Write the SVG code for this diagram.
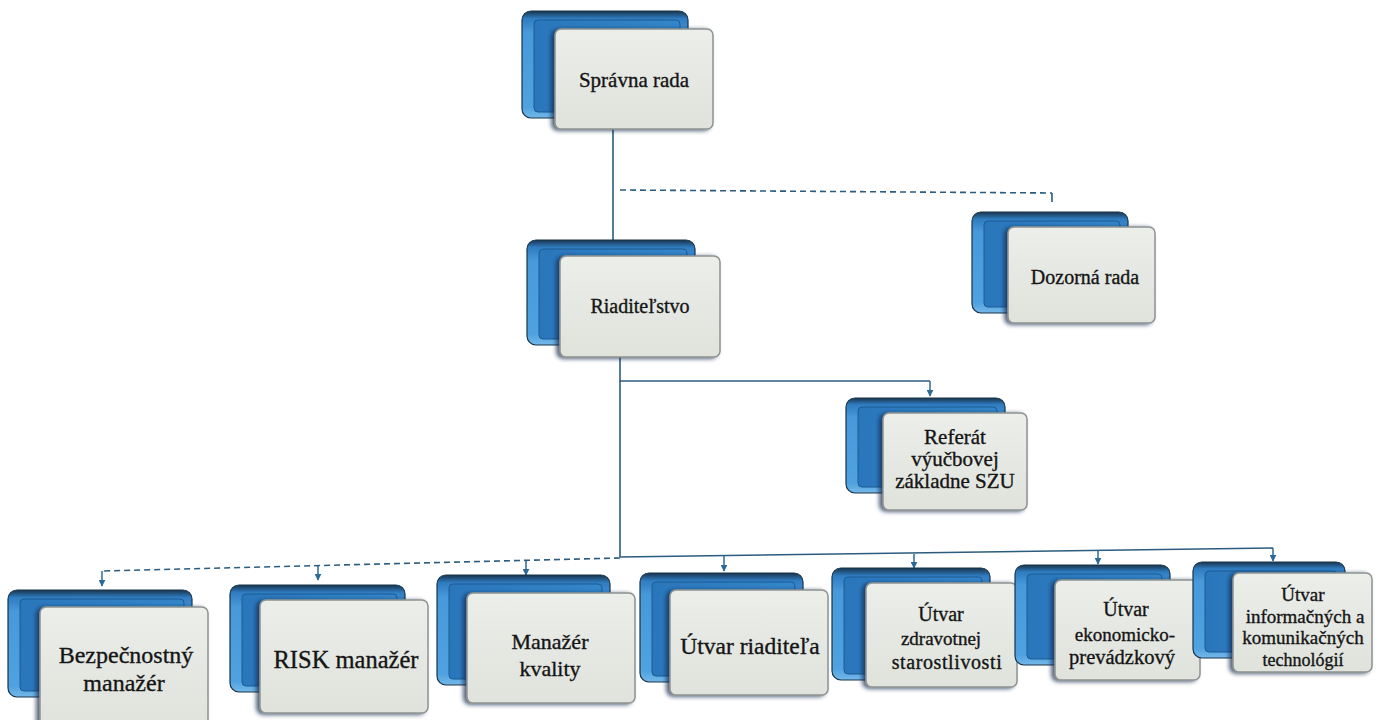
<svg xmlns="http://www.w3.org/2000/svg" width="1384" height="720" viewBox="0 0 1384 720">
<defs>
<linearGradient id="gBlue" x1="0" y1="0" x2="0" y2="1">
<stop offset="0" stop-color="#18334d"/>
<stop offset="0.07" stop-color="#2f7cc0"/>
<stop offset="0.2" stop-color="#4799da"/>
<stop offset="0.9" stop-color="#4fa2df"/>
<stop offset="1" stop-color="#74b8ea"/>
</linearGradient>
<linearGradient id="gBlueIn" x1="0" y1="0" x2="1" y2="0">
<stop offset="0" stop-color="#2a76bb"/>
<stop offset="1" stop-color="#3486c9"/>
</linearGradient>
<linearGradient id="gFront" x1="0" y1="0" x2="0" y2="1">
<stop offset="0" stop-color="#eceee9"/>
<stop offset="1" stop-color="#dfe3dc"/>
</linearGradient>
<filter id="sh" x="-10%" y="-10%" width="120%" height="120%">
<feDropShadow dx="-3" dy="1" stdDeviation="2" flood-color="#0d2a48" flood-opacity="0.75"/>
</filter>
<marker id="arr" viewBox="0 0 10 10" refX="9" refY="5" markerWidth="7" markerHeight="7" orient="auto" markerUnits="userSpaceOnUse">
<path d="M0,0 L10,5 L0,10 z" fill="#2b6a96"/>
</marker>
</defs>
<style>
.back{fill:url(#gBlue);stroke:#183449;stroke-width:1.2}
.backin{fill:url(#gBlueIn);stroke:#1d5a92;stroke-width:1}
.front{fill:url(#gFront);stroke:#8d9292;stroke-width:1.5;filter:url(#sh)}
.t{font-family:"Liberation Serif","Times New Roman",serif;fill:#151515;stroke:#151515;stroke-width:0.35;text-anchor:middle}
.c{fill:none;stroke:#2b5b7e;stroke-width:1.6}
.d{fill:none;stroke:#2b5b7e;stroke-width:1.6;stroke-dasharray:6 4}
.a{fill:none;stroke:#2b6a96;stroke-width:1.5;marker-end:url(#arr)}
</style>
<rect width="1384" height="720" fill="#ffffff"/>

<g id="connectors">
<path class="c" d="M613,129 L613,241"/>
<path class="d" d="M620,190 L1052,193"/>
<path class="c" d="M1052,193 L1052,202"/>
<path class="c" d="M620,357 L620,557"/>
<path class="c" d="M620,381 L930,381"/>
<path class="a" d="M930,381 L930,396"/>
<path class="c" d="M620,557 L1273,548"/>
<path class="d" d="M620,558 L102,571"/>
<path class="a" d="M102,571 L102,586"/>
<path class="a" d="M318,566 L318,580"/>
<path class="a" d="M526,561 L526,575"/>
<path class="a" d="M724,556 L724,571"/>
<path class="a" d="M914,554 L914,568"/>
<path class="a" d="M1098,551 L1098,564"/>
<path class="a" d="M1273,548 L1273,561"/>
</g>

<g id="spravna-rada">
<rect class="back" x="522" y="11" width="166" height="107" rx="9"/>
<rect class="backin" x="534" y="20" width="146" height="92" rx="4"/>
<rect class="front" x="555" y="29" width="158" height="100" rx="6"/>
<text class="t" x="634" y="87" font-size="21">Správna rada</text>
</g>

<g id="dozorna-rada">
<rect class="back" x="972" y="212" width="156" height="101" rx="9"/>
<rect class="backin" x="984" y="221" width="136" height="86" rx="4"/>
<rect class="front" x="1008" y="227" width="147" height="96" rx="6"/>
<text class="t" x="1085" y="284" font-size="20">Dozorná rada</text>
</g>

<g id="riaditelstvo">
<rect class="back" x="527" y="240" width="168" height="105" rx="9"/>
<rect class="backin" x="539" y="249" width="148" height="90" rx="4"/>
<rect class="front" x="560" y="256" width="160" height="101" rx="6"/>
<text class="t" x="640" y="313" font-size="20">Riaditeľstvo</text>
</g>

<g id="referat">
<rect class="back" x="846" y="398" width="159" height="95" rx="9"/>
<rect class="backin" x="858" y="407" width="139" height="80" rx="4"/>
<rect class="front" x="883" y="413" width="144" height="97" rx="6"/>
<text class="t" x="955" y="444" font-size="21">Referát</text>
<text class="t" x="955" y="466" font-size="21">výučbovej</text>
<text class="t" x="955" y="488" font-size="21">základne SZU</text>
</g>

<g id="bezpecnostny-manazer">
<rect class="back" x="8" y="590" width="184" height="107" rx="9"/>
<rect class="backin" x="20" y="599" width="164" height="92" rx="4"/>
<rect class="front" x="40" y="607" width="168" height="120" rx="6"/>
<text class="t" x="126" y="663" font-size="24">Bezpečnostný</text>
<text class="t" x="124" y="691" font-size="24">manažér</text>
</g>

<g id="risk-manazer">
<rect class="back" x="230" y="585" width="175" height="107" rx="9"/>
<rect class="backin" x="242" y="594" width="155" height="92" rx="4"/>
<rect class="front" x="260" y="600" width="168" height="113" rx="6"/>
<text class="t" x="346" y="668" font-size="24.5">RISK manažér</text>
</g>

<g id="manazer-kvality">
<rect class="back" x="437" y="575" width="173" height="110" rx="9"/>
<rect class="backin" x="449" y="584" width="153" height="95" rx="4"/>
<rect class="front" x="467" y="593" width="168" height="110" rx="6"/>
<text class="t" x="550" y="649" font-size="22">Manažér</text>
<text class="t" x="550" y="676" font-size="22">kvality</text>
</g>

<g id="utvar-riaditela">
<rect class="back" x="640" y="573" width="163" height="109" rx="9"/>
<rect class="backin" x="652" y="582" width="143" height="94" rx="4"/>
<rect class="front" x="670" y="590" width="158" height="105" rx="6"/>
<text class="t" x="750" y="654" font-size="23.5">Útvar riaditeľa</text>
</g>

<g id="utvar-zdravotnej">
<rect class="back" x="832" y="568" width="158" height="112" rx="9"/>
<rect class="backin" x="844" y="577" width="138" height="97" rx="4"/>
<rect class="front" x="866" y="583" width="151" height="104" rx="6"/>
<text class="t" x="941" y="621" font-size="20">Útvar</text>
<text class="t" x="941" y="645" font-size="19">zdravotnej</text>
<text class="t" x="947" y="669" font-size="20" letter-spacing="0.6">starostlivosti</text>
</g>

<g id="utvar-ekonomicko">
<rect class="back" x="1015" y="565" width="155" height="100" rx="9"/>
<rect class="backin" x="1027" y="574" width="135" height="85" rx="4"/>
<rect class="front" x="1055" y="580" width="145" height="100" rx="6"/>
<text class="t" x="1126" y="616" font-size="20">Útvar</text>
<text class="t" x="1125" y="641" font-size="19">ekonomicko-</text>
<text class="t" x="1122" y="664" font-size="20.5">prevádzkový</text>
</g>

<g id="utvar-ikt">
<rect class="back" x="1193" y="562" width="152" height="96" rx="9"/>
<rect class="backin" x="1205" y="571" width="132" height="81" rx="4"/>
<rect class="front" x="1233" y="573" width="139" height="99" rx="6"/>
<text class="t" x="1303" y="601" font-size="19">Útvar</text>
<text class="t" x="1305" y="623" font-size="19">informačných a</text>
<text class="t" x="1303" y="644" font-size="19">komunikačných</text>
<text class="t" x="1303" y="666" font-size="18">technológií</text>
</g>
</svg>
